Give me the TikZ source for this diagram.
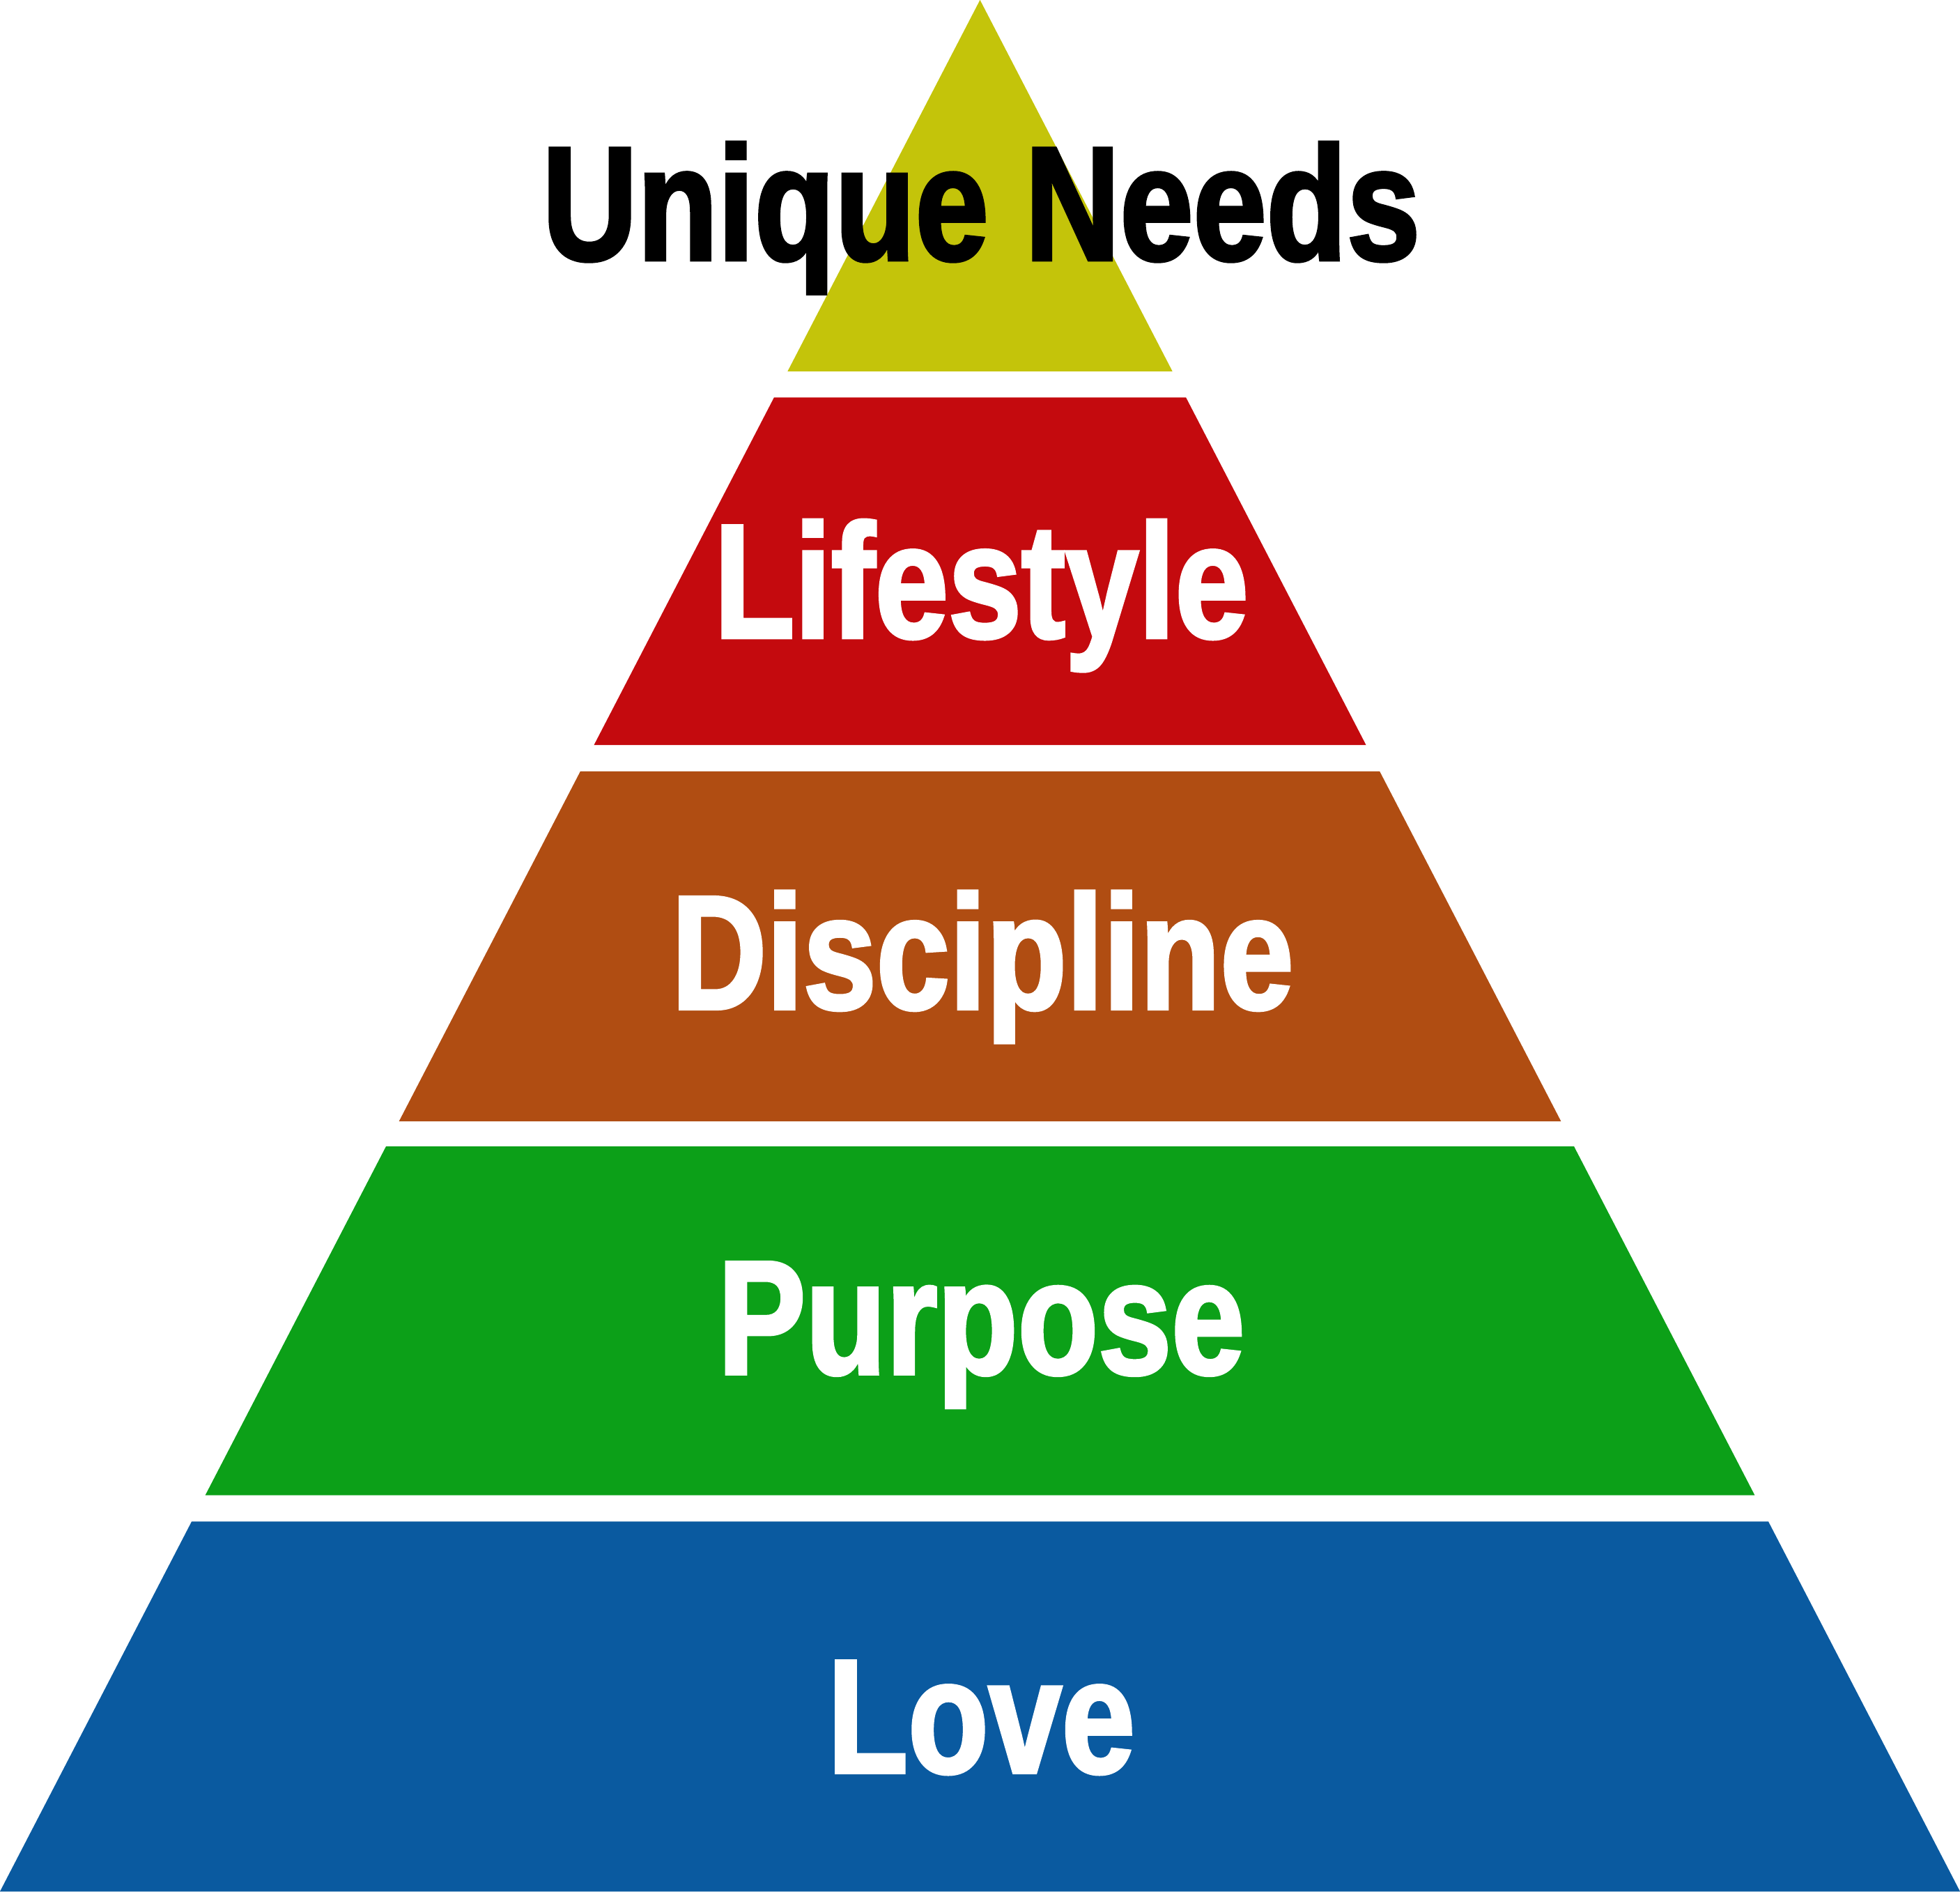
\documentclass[tikz,border=0pt]{standalone}
\usepackage{fontspec}
\setmainfont{Liberation Sans}[FakeStretch=0.81, BoldFeatures={FakeBold=2}]
\definecolor{needsyellow}{HTML}{C4C40A}
\definecolor{lifered}{HTML}{C40A0E}
\definecolor{discbrown}{HTML}{B04D12}
\definecolor{purpgreen}{HTML}{0CA018}
\definecolor{loveblue}{HTML}{0A5AA0}
% one band of the pyramid: top and bottom (pixels from the top), colour
\newcommand\band[3]{%
  \fill[#3] ({7.84-0.5182*#1/100},{15.13-#1/100}) -- ({7.84+0.5182*#1/100},{15.13-#1/100})
    -- ({7.84+0.5182*#2/100},{15.13-#2/100}) -- ({7.84-0.5182*#2/100},{15.13-#2/100}) -- cycle;}

\begin{document}
\begin{tikzpicture}[label/.style={anchor=base, font=\bfseries\fontsize{37}{40}\selectfont, inner sep=0pt}]
\useasboundingbox (0,0) rectangle (15.68,15.13);
\band{0}{297}{needsyellow}
\band{318}{596}{lifered}
\band{617}{897}{discbrown}
\band{917}{1196}{purpgreen}
\band{1217}{1513}{loveblue}

\node [label, text=black] (needs) at (7.85,13.05) {Unique Needs};
\node [label, text=white] (life) at (7.85,10.03) {Lifestyle};
\node [label, text=white] (disc) at (7.86,7.06) {Discipline};
\node [label, text=white] (purp) at (7.85,4.14) {Purpose};
\node [label, text=white] (love) at (7.85,0.95) {Love};
\end{tikzpicture}
\end{document}
